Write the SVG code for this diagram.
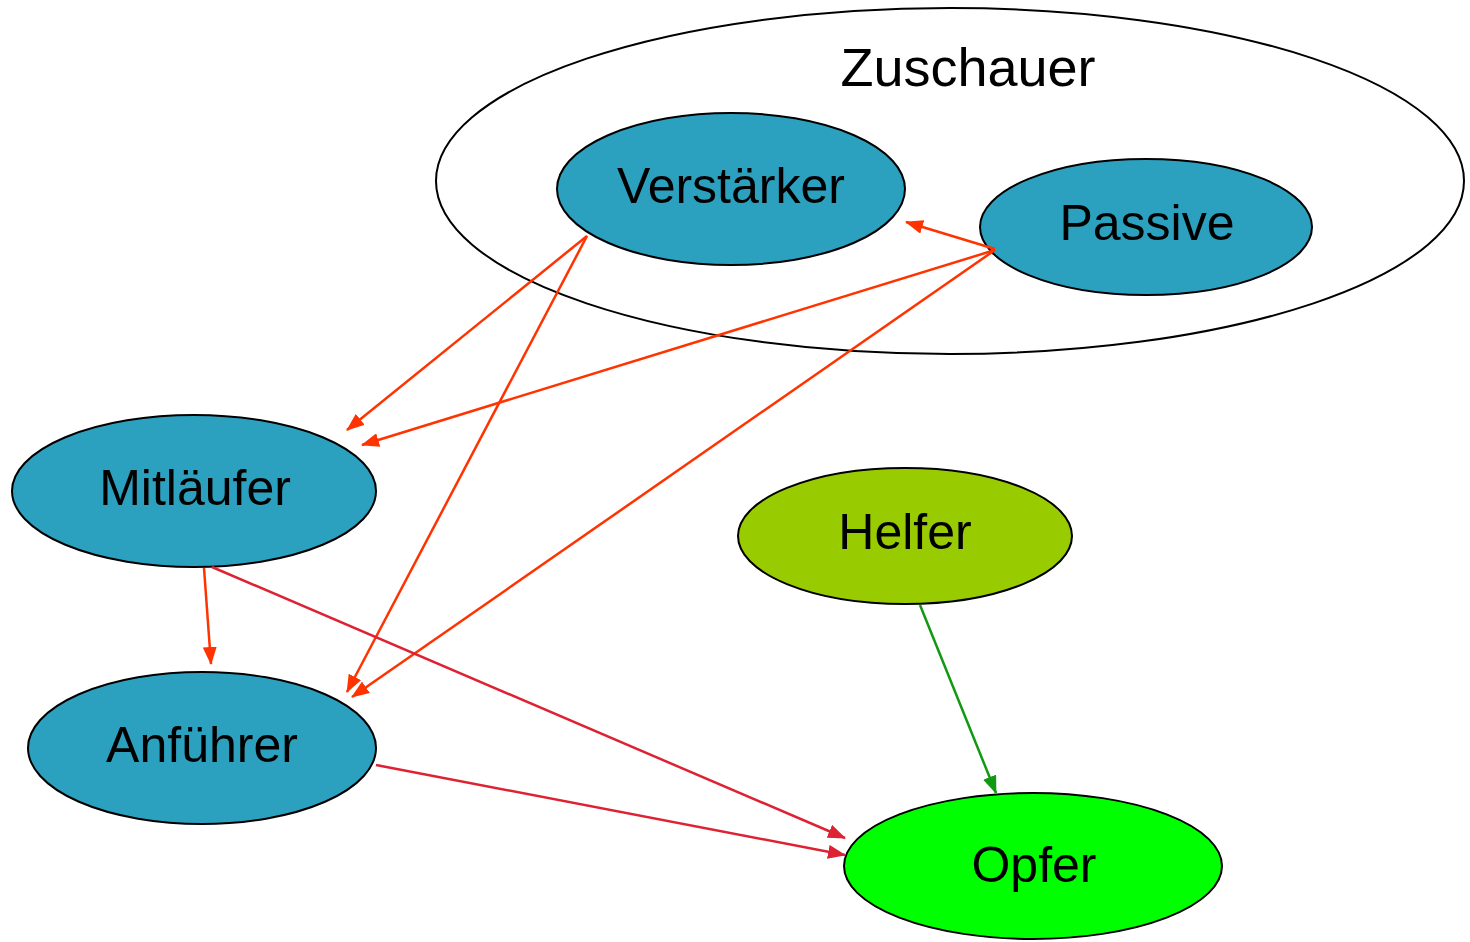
<svg xmlns="http://www.w3.org/2000/svg" width="1470" height="942" viewBox="0 0 1470 942">
<style>
.lbl{font-family:"Liberation Sans",Arial,sans-serif;font-size:50px;fill:#000;text-anchor:middle}
.n{stroke:#000;stroke-width:2}
.teal{fill:#2CA1BF}
.ar{fill:none;stroke-width:2.5}
</style>
<defs>
<marker id="mo" markerUnits="userSpaceOnUse" markerWidth="18" markerHeight="14" refX="17" refY="7" orient="auto"><path d="M0,0 L18,7 L0,14 Z" fill="#FF3300"/></marker>
<marker id="mr" markerUnits="userSpaceOnUse" markerWidth="18" markerHeight="14" refX="17" refY="7" orient="auto"><path d="M0,0 L18,7 L0,14 Z" fill="#DD2233"/></marker>
<marker id="mg" markerUnits="userSpaceOnUse" markerWidth="18" markerHeight="14" refX="17" refY="7" orient="auto"><path d="M0,0 L18,7 L0,14 Z" fill="#119911"/></marker>
</defs>
<rect width="1470" height="942" fill="#fff"/>
<g id="zuschauer">
<ellipse cx="950" cy="181" rx="514" ry="173" fill="#fff" class="n" stroke-width="1.5"/>
<text x="968" y="86" class="lbl" style="font-size:54px">Zuschauer</text>
</g>
<g id="verstaerker">
<ellipse cx="731" cy="189" rx="174" ry="76" class="n teal"/>
<text x="731" y="203" class="lbl">Verstärker</text>
</g>
<g id="passive">
<ellipse cx="1146" cy="227" rx="166" ry="68" class="n teal"/>
<text x="1147" y="240" class="lbl">Passive</text>
</g>
<g id="mitlaeufer">
<ellipse cx="194" cy="491" rx="182" ry="76" class="n teal"/>
<text x="195" y="505" class="lbl">Mitläufer</text>
</g>
<g id="helfer">
<ellipse cx="905" cy="536" rx="167" ry="68" class="n" fill="#99CC00"/>
<text x="905" y="549" class="lbl">Helfer</text>
</g>
<g id="anfuehrer">
<ellipse cx="202" cy="748" rx="174" ry="76" class="n teal"/>
<text x="202" y="762" class="lbl">Anführer</text>
</g>
<g id="opfer">
<ellipse cx="1033" cy="866" rx="189" ry="73" class="n" fill="#00FF00"/>
<text x="1034" y="882" class="lbl">Opfer</text>
</g>
<g id="connectors">
<line x1="995" y1="249" x2="906" y2="222" class="ar" stroke="#FF3300" marker-end="url(#mo)"/>
<line x1="587" y1="236" x2="347" y2="430" class="ar" stroke="#FF3300" marker-end="url(#mo)"/>
<line x1="995" y1="250" x2="362" y2="445" class="ar" stroke="#FF3300" marker-end="url(#mo)"/>
<line x1="587" y1="236" x2="347" y2="692" class="ar" stroke="#FF3300" marker-end="url(#mo)"/>
<line x1="995" y1="250" x2="352" y2="697" class="ar" stroke="#FF3300" marker-end="url(#mo)"/>
<line x1="204" y1="568" x2="211" y2="664" class="ar" stroke="#FF3300" marker-end="url(#mo)"/>
<line x1="212" y1="567" x2="845" y2="838" class="ar" stroke="#DD2233" marker-end="url(#mr)"/>
<line x1="376" y1="765" x2="845" y2="855" class="ar" stroke="#DD2233" marker-end="url(#mr)"/>
<line x1="920" y1="605" x2="996" y2="793" class="ar" stroke="#119911" marker-end="url(#mg)"/>
</g>
</svg>
